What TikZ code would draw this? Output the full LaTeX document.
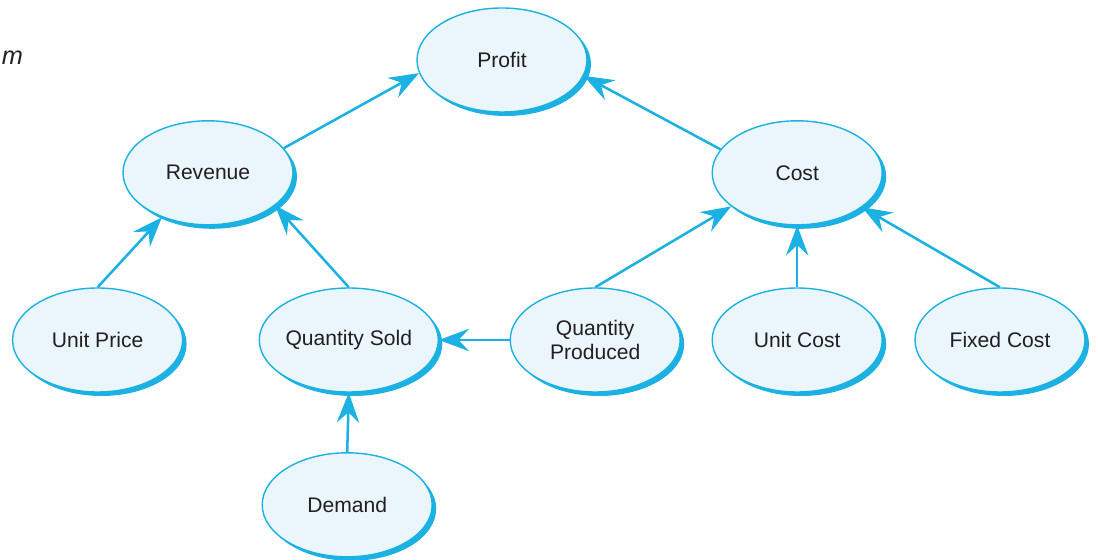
\documentclass[tikz,border=0pt]{standalone}
\usepackage{fontspec}
\setmainfont{Liberation Sans}
\usetikzlibrary{arrows.meta,shapes.geometric,shadows}
\definecolor{bcyan}{RGB}{27,177,226}
\definecolor{bfill}{RGB}{234,246,252}
\definecolor{btext}{RGB}{35,31,32}

\begin{document}
\begin{tikzpicture}[
  font=\fontsize{15}{17}\selectfont, text=btext,
  bub/.style={ellipse, draw=bcyan, line width=1pt, fill=bfill,
              minimum width=4.25cm, minimum height=2.6cm, inner sep=0pt, align=center,
              drop shadow={shadow xshift=1mm, shadow yshift=-1mm, fill=bcyan, opacity=1}},
  fl/.style={-{Stealth[length=7.5mm, width=5.6mm, inset=2.6mm]}, line width=1.8pt, draw=bcyan}
]
\useasboundingbox (0,0) rectangle (27.45,14);
\node[font=\fontsize{18}{20}\selectfont\itshape, anchor=west, inner sep=0pt] (cap) at (0.04,12.55) {m};

\node[bub] (profit) at (12.55,12.5) {Profit};
\node[bub] (rev) at (5.2,9.68) {Revenue};
\node[bub] (cost) at (19.93,9.68) {Cost};
\node[bub] (up) at (2.44,5.5) {Unit Price};
\node[bub] (qs) at (8.72,5.5) {Quantity Sold};
\node[bub] (qp) at (14.88,5.5) {Quantity\\Produced};
\node[bub] (uc) at (19.93,5.5) {Unit Cost};
\node[bub] (fc) at (25.0,5.5) {Fixed Cost};
\node[bub] (dem) at (8.68,1.38) {Demand};

\foreach \a/\b in {rev.18/profit.189, cost.163/profit.349, up.north/rev.224, qs.north/rev.334,
                   qp.north/cost.207, uc.north/cost.south, fc.north/cost.332,
                   qp.west/qs.east, dem.north/qs.south}
  \draw[fl] (\a) -- (\b);
\end{tikzpicture}
\end{document}
